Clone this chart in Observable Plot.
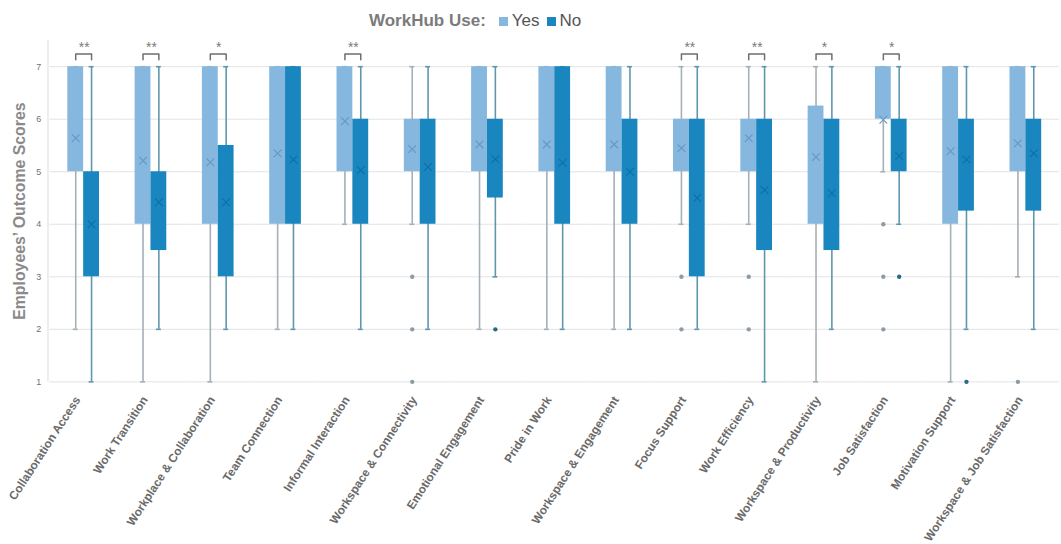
<!DOCTYPE html>
<html>
<head>
<meta charset="utf-8">
<script src="https://cdn.jsdelivr.net/npm/d3@7"></script>
<script src="https://cdn.jsdelivr.net/npm/@observablehq/plot@0.6"></script>
<style>
  html, body { margin: 0; padding: 0; background: #fff; }
  body { width: 1061px; height: 544px; overflow: hidden; font-family: "Liberation Sans", Arial, sans-serif; position: relative; }
  #legend { height: 32px; position: relative; }
  #legend .inner { position: absolute; left: 369px; top: 11px; display: flex; align-items: center; line-height: 20px; white-space: nowrap; }
  #legend .title { font-size: 17px; font-weight: bold; color: #7b7b7b; margin-right: 13px; }
  #legend .sw { width: 9px; height: 9px; display: inline-block; margin-right: 4px; }
  #legend .lab { font-size: 17px; color: #555; margin-right: 7px; }
  svg { display: block; }
  g[aria-label="fx-axis tick label"] text { font-weight: bold; }
</style>
</head>
<body>
<div id="legend"><div class="inner"></div></div>
<script>
// Outcome categories along the x axis
const categories = [
  "Collaboration Access", "Work Transition", "Workplace & Collaboration", "Team Connection",
  "Informal Interaction", "Workspace & Connectivity", "Emotional Engagement", "Pride in Work",
  "Workspace & Engagement", "Focus Support", "Work Efficiency", "Workspace & Productivity",
  "Job Satisfaction", "Motivation Support", "Workspace & Job Satisfaction"
];
const groups = ["Yes", "No"];

// WorkHub users: quartiles, whisker ends and means
const yesQ1   = [5, 4, 4, 4, 5, 5, 5, 5, 5, 5, 5, 4, 6, 4, 5];
const yesQ3   = [7, 7, 7, 7, 7, 6, 7, 7, 7, 6, 6, 6.25, 7, 7, 7];
const yesLow  = [2, 1, 1, 2, 4, 4, 2, 2, 2, 4, 4, 1, 5, 1, 3];
const yesHigh = [7, 7, 7, 7, 7, 7, 7, 7, 7, 7, 7, 7, 7, 7, 7];
const yesMean = [5.64, 5.21, 5.18, 5.35, 5.96, 5.43, 5.52, 5.52, 5.52, 5.45, 5.64, 5.28, 5.99, 5.39, 5.54];

// Non-users: quartiles, whisker ends and means
const noQ1   = [3, 3.5, 3, 4, 4, 4, 4.5, 4, 4, 3, 3.5, 3.5, 5, 4.25, 4.25];
const noQ3   = [5, 5, 5.5, 7, 6, 6, 6, 7, 6, 6, 6, 6, 6, 6, 6];
const noLow  = [1, 2, 2, 2, 2, 2, 3, 2, 2, 2, 1, 2, 4, 2, 2];
const noHigh = [7, 7, 7, 7, 7, 7, 7, 7, 7, 7, 7, 7, 7, 7, 7];
const noMean = [4.0, 4.42, 4.42, 5.23, 5.03, 5.09, 5.24, 5.17, 5.0, 4.5, 4.65, 4.59, 5.3, 5.23, 5.35];

// Outlying responses
const outlierCategory = [
  "Workspace & Connectivity", "Workspace & Connectivity", "Workspace & Connectivity",
  "Emotional Engagement",
  "Focus Support", "Focus Support",
  "Work Efficiency", "Work Efficiency",
  "Job Satisfaction", "Job Satisfaction", "Job Satisfaction", "Job Satisfaction",
  "Motivation Support",
  "Workspace & Job Satisfaction"
];
const outlierGroup = ["Yes", "Yes", "Yes", "No", "Yes", "Yes", "Yes", "Yes", "Yes", "Yes", "Yes", "No", "No", "Yes"];
const outlierValue = [3, 2, 1, 2, 3, 2, 3, 2, 4, 3, 2, 3, 1, 1];

// Significance markers
const sigCategories = [
  "Collaboration Access", "Work Transition", "Workplace & Collaboration", "Informal Interaction",
  "Focus Support", "Work Efficiency", "Workspace & Productivity", "Job Satisfaction"
];
const sigLabels = ["**", "**", "*", "**", "**", "**", "*", "*"];

const yTicks = [1, 2, 3, 4, 5, 6, 7];
const yLabel = "Employees’ Outcome Scores";

// Styling
const boxColor = {Yes: "#86b7df", No: "#1a86bf"};
const whiskerColor = {Yes: "#a4afb6", No: "#5e97ad"};
const meanColor = {Yes: "#6497c4", No: "#0f6ea6"};
const outlierColor = {Yes: "#8c9ba5", No: "#2a6886"};

const W = 1072, H = 512, ML = 48, MR = 0, MT = 8, MB = 159;
const xPadInner = 0.03, xPadOuter = 1.02;
const facetStep = (W - ML - MR) / categories.length;
const xStep = facetStep / (groups.length - xPadInner + 2 * xPadOuter);
const bracketTop = 7.24, bracketFoot = 7.13, starLevel = 7.37;

// Tidy tables for the marks
const boxes = categories.flatMap((c, i) => [
  {category: c, group: "Yes", q1: yesQ1[i], q3: yesQ3[i], low: yesLow[i], high: yesHigh[i], mean: yesMean[i]},
  {category: c, group: "No",  q1: noQ1[i],  q3: noQ3[i],  low: noLow[i],  high: noHigh[i],  mean: noMean[i]}
]);
const outliers = outlierCategory.map((c, i) => ({category: c, group: outlierGroup[i], value: outlierValue[i]}));
const brackets = sigCategories.flatMap(c => [
  {category: c, group: "Yes", y: bracketFoot},
  {category: c, group: "Yes", y: bracketTop},
  {category: c, group: "No", y: bracketTop},
  {category: c, group: "No", y: bracketFoot}
]);
const stars = sigCategories.map((c, i) => ({category: c, label: sigLabels[i]}));

// Legend above the chart
const legendInner = document.querySelector("#legend .inner");
legendInner.innerHTML = `<span class="title">WorkHub Use:</span>` +
  groups.map(g => `<span class="sw" style="background:${boxColor[g]}"></span><span class="lab">${g}</span>`).join("");

const chart = Plot.plot({
  width: W, height: H,
  marginLeft: ML, marginRight: MR, marginTop: MT, marginBottom: MB,
  style: {fontFamily: "'Liberation Sans', Arial, sans-serif", background: "#fff", overflow: "visible"},
  fx: {domain: categories, padding: 0, label: null, axis: null},
  x: {domain: groups, paddingInner: xPadInner, paddingOuter: xPadOuter, axis: null},
  y: {domain: [1, 7.5], axis: null},
  color: {domain: groups, range: groups.map(g => boxColor[g])},
  marks: [
    Plot.gridY({ticks: yTicks, stroke: "#e3e3e3", strokeOpacity: 1, strokeWidth: 1}),
    Plot.axisY({ticks: yTicks, tickFormat: d => String(d), tickSize: 0, tickPadding: 9, fontSize: 9, fill: "#707070", label: null}),
    Plot.axisFx({anchor: "bottom", tickRotate: -57, tickSize: 0, tickPadding: 16, dx: -6, fontSize: 12, fill: "#6a6a6a", label: null}),
    Plot.text([yLabel], {fx: () => categories[0], frameAnchor: "left", textAnchor: "middle", rotate: -90, dx: -30, text: d => d,
      fontSize: 16, fontWeight: "bold", fill: "#8a8a8a"}),
    // whiskers and caps
    Plot.ruleX(boxes, {fx: "category", x: "group", y1: "low", y2: "high", stroke: d => whiskerColor[d.group], strokeWidth: 1.6}),
    Plot.tickY(boxes, {fx: "category", x: "group", y: "low", stroke: d => whiskerColor[d.group], strokeWidth: 1.6, insetLeft: 5.5, insetRight: 5.5}),
    Plot.tickY(boxes, {fx: "category", x: "group", y: "high", stroke: d => whiskerColor[d.group], strokeWidth: 1.6, insetLeft: 5.5, insetRight: 5.5}),
    // interquartile boxes
    Plot.barY(boxes, {fx: "category", x: "group", y1: "q1", y2: "q3", fill: "group"}),
    // means
    Plot.dot(boxes, {fx: "category", x: "group", y: "mean", symbol: "times", r: 3.6, stroke: d => meanColor[d.group], strokeWidth: 1.1}),
    // outliers
    Plot.dot(outliers, {fx: "category", x: "group", y: "value", r: 2.2, fill: d => outlierColor[d.group], stroke: "none"}),
    // significance brackets
    Plot.line(brackets, {fx: "category", x: "group", y: "y", z: "category", stroke: "#6e6e6e", strokeWidth: 1.5, curve: "linear"}),
    Plot.text(stars, {fx: "category", x: () => "Yes", y: () => starLevel, dx: xStep / 2, text: "label",
      fontSize: 14, fill: "#7a7a7a"})
  ]
});
document.body.appendChild(chart);

// left boundary of the plot area
const fxRange = chart.scale("fx").range;
const yRange = chart.scale("y").range;
d3.select(chart).insert("line", ":first-child")
  .attr("x1", fxRange[0] + 0.5).attr("x2", fxRange[0] + 0.5)
  .attr("y1", Math.min(...yRange)).attr("y2", Math.max(...yRange))
  .attr("stroke", "#dcdcdc").attr("stroke-width", 1);
</script>
</body>
</html>
